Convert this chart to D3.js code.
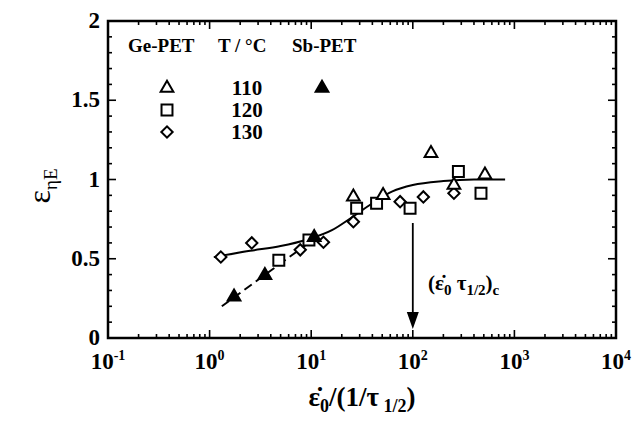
<!DOCTYPE html>
<html><head><meta charset="utf-8">
<script src="https://cdn.jsdelivr.net/npm/d3@7"></script>
<style>
body{margin:0;background:#fff;}
text{font-family:"Liberation Serif","Times New Roman",serif;font-weight:bold;fill:#000;}
</style></head>
<body><svg id="c" width="637" height="422"></svg>
<script>
// ---- data (x = strain rate * tau_1/2, y = epsilon_etaE) ----
const ge110 = [[26,0.89],[51,0.90],[151,1.165],[254,0.965],[513,1.03]];
const ge120 = [[4.8,0.49],[9.5,0.618],[28,0.818],[44,0.85],[94,0.818],[281,1.05],[469,0.913]];
const ge130 = [[1.29,0.511],[2.6,0.60],[7.8,0.556],[13.2,0.604],[26,0.734],[75,0.86],[127,0.89],[254,0.913]];
const sb110 = [[1.74,0.26],[3.5,0.395],[10.7,0.635]];
const solidCurve = [[1.1,0.51],[2.5,0.55],[5,0.58],[9,0.62],[16,0.68],[25,0.76],[40,0.85],[63,0.925],[100,0.965],[200,0.99],[400,1.0],[810,1.0]];
const dashedCurve = [[1.32,0.2],[11.5,0.64]];
const xTickVals = [0.1,1,10,100,1000,10000];
const xTickExp = ["-1","0","1","2","3","4"];
const yTickVals = [0,0.5,1,1.5,2];
const yTickLabels = ["0","0.5","1","1.5","2"];
const legendRows = ["110","120","130"];
const critical = 100;

const svg = d3.select("#c");
const L=108,R=616,T=21,B=338;
const x = d3.scaleLog().domain([0.1,1e4]).range([L,R]);
const y = d3.scaleLinear().domain([0,2]).range([B,T]);

// ticks inside on all four sides
const g = svg.append("g").attr("stroke","#000").attr("stroke-width",1.6);
x.ticks().forEach(v=>{
  const major = Math.abs(Math.log10(v)-Math.round(Math.log10(v)))<1e-9;
  const len = major?8:4;
  g.append("line").attr("x1",x(v)).attr("x2",x(v)).attr("y1",B).attr("y2",B-len);
  g.append("line").attr("x1",x(v)).attr("x2",x(v)).attr("y1",T).attr("y2",T+len);
});
y.ticks(20).forEach(v=>{
  const major = Math.abs(v*2-Math.round(v*2))<1e-9; const len = major?8:4;
  g.append("line").attr("x1",L).attr("x2",L+len).attr("y1",y(v)).attr("y2",y(v));
  g.append("line").attr("x1",R).attr("x2",R-len).attr("y1",y(v)).attr("y2",y(v));
});
svg.append("rect").attr("x",L).attr("y",T).attr("width",R-L).attr("height",B-T)
  .attr("fill","none").attr("stroke","#000").attr("stroke-width",2.5);

// tick labels
svg.selectAll(".yl").data(yTickVals).enter().append("text")
  .attr("x",100).attr("y",d=>y(d)+7).attr("text-anchor","end").attr("font-size",23)
  .text((d,i)=>yTickLabels[i]);
xTickVals.forEach((v,i)=>{
  const t = svg.append("text").attr("x",x(v)).attr("y",369).attr("text-anchor","middle").attr("font-size",23);
  t.append("tspan").text("10");
  t.append("tspan").attr("dy",-9).attr("font-size",14).text(xTickExp[i]);
});

// axis titles
const xt2 = svg.append("text").attr("x",362).attr("y",406).attr("text-anchor","middle").attr("font-size",27);
xt2.append("tspan").text("ε̇");
xt2.append("tspan").attr("dy",6).attr("font-size",18).text("0");
xt2.append("tspan").attr("dy",-6).text("/(1/τ");
xt2.append("tspan").attr("dy",6).attr("font-size",18).text(" 1/2");
xt2.append("tspan").attr("dy",-6).text(")");
const yt = svg.append("text").attr("transform","translate(50,186) rotate(-90)").attr("text-anchor","middle").attr("font-size",32).attr("font-weight","normal");
yt.append("tspan").attr("font-weight","normal").text("ε");
yt.append("tspan").attr("dy",7).attr("font-size",19).attr("font-weight","normal").text("ηE");

// curves
const line = d3.line().x(d=>x(d[0])).y(d=>y(d[1])).curve(d3.curveMonotoneX);
svg.append("path").datum(solidCurve).attr("d",line).attr("fill","none").attr("stroke","#000").attr("stroke-width",2);
svg.append("path").datum(dashedCurve).attr("d",line).attr("fill","none").attr("stroke","#000").attr("stroke-width",2).attr("stroke-dasharray","9,5");

// markers
const sym = {
  tri: d3.symbol().type(d3.symbolTriangle).size(70),
  sq: d3.symbol().type(d3.symbolSquare).size(120),
  dia: d3.symbol().type(d3.symbolSquare).size(64)
};
const rot = {tri:0, sq:0, dia:45};
function plot(data,s,filled){
  svg.append("g").selectAll("path").data(data).enter().append("path")
    .attr("transform",d=>`translate(${x(d[0])},${y(d[1])}) rotate(${rot[s]})`)
    .attr("d",sym[s]).attr("fill",filled?"#000":"#fff").attr("stroke","#000").attr("stroke-width",2);
}
plot(ge130,"dia",false);
plot(ge120,"sq",false);
plot(ge110,"tri",false);
plot(sb110,"tri",true);

// arrow
svg.append("line").attr("x1",x(critical)).attr("x2",x(critical)).attr("y1",223).attr("y2",315)
  .attr("stroke","#000").attr("stroke-width",1.8);
svg.append("path").attr("d",`M${x(critical)-6},312 L${x(critical)+6},312 L${x(critical)},329 Z`).attr("fill","#000");
const cl = svg.append("text").attr("x",428).attr("y",290).attr("font-size",21);
cl.append("tspan").text("(ε̇");
cl.append("tspan").attr("dy",5).attr("font-size",15).text("0");
cl.append("tspan").attr("dy",-5).text(" τ");
cl.append("tspan").attr("dy",5).attr("font-size",15).text("1/2");
cl.append("tspan").attr("dy",-5).text(")");
cl.append("tspan").attr("dy",5).attr("font-size",15).text("c");

// legend
svg.append("text").attr("x",128).attr("y",52).attr("font-size",19).text("Ge-PET");
svg.append("text").attr("x",218).attr("y",52).attr("font-size",19).text("T / °C");
svg.append("text").attr("x",292).attr("y",52).attr("font-size",19).text("Sb-PET");
const ly = [88,110,132];
const lsym = ["tri","sq","dia"];
legendRows.forEach((r,i)=>{
  svg.append("text").attr("x",247).attr("y",ly[i]+7).attr("text-anchor","middle").attr("font-size",21).text(r);
  svg.append("path").attr("transform",`translate(167,${ly[i]}) rotate(${rot[lsym[i]]})`).attr("d",sym[lsym[i]])
    .attr("fill","#fff").attr("stroke","#000").attr("stroke-width",2);
});
svg.append("path").attr("transform",`translate(322,${ly[0]})`).attr("d",sym.tri).attr("fill","#000").attr("stroke","#000").attr("stroke-width",2);
</script></body></html>
